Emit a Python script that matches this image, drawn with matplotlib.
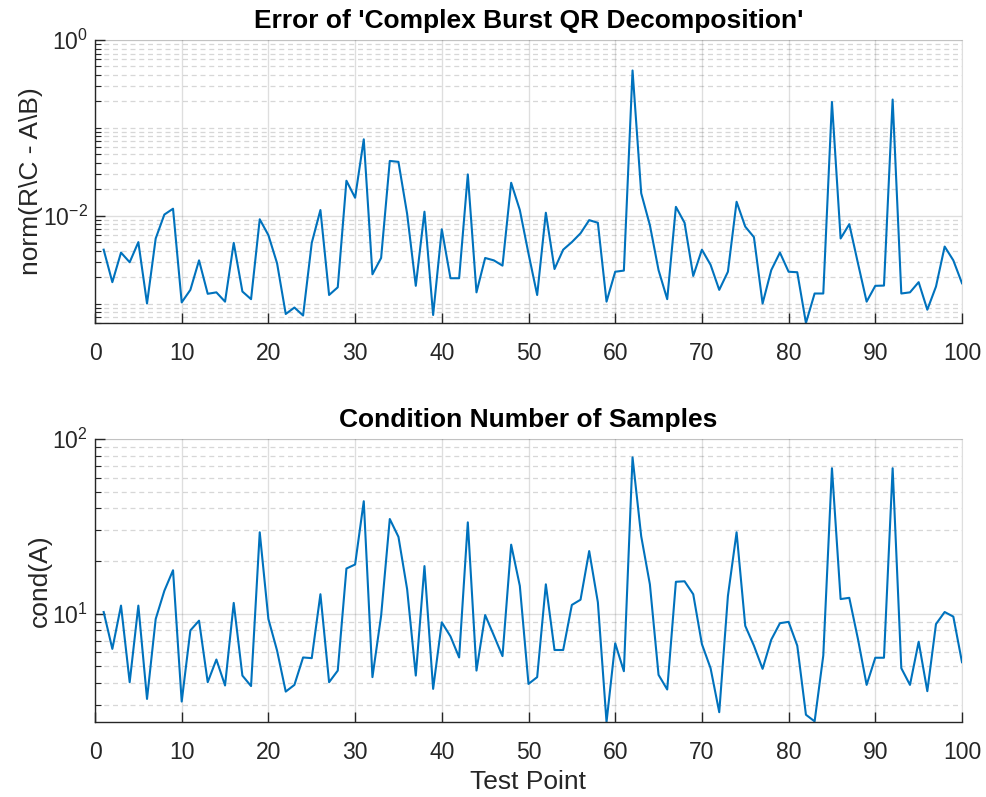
import matplotlib
matplotlib.use('Agg')
import matplotlib.pyplot as plt
from matplotlib.ticker import LogLocator, NullFormatter, FixedLocator
import numpy as np

plt.rcParams['font.family'] = ['Liberation Sans', 'DejaVu Sans']
plt.rcParams['mathtext.fontset'] = 'custom'
plt.rcParams['mathtext.rm'] = 'Liberation Sans'
plt.rcParams['mathtext.it'] = 'Liberation Sans'
plt.rcParams['mathtext.bf'] = 'Liberation Sans:bold'

# test points 1..100
test_point = np.arange(1, 101)

# norm(R\C - A\B)
err = [
    4.1e-3, 1.75e-3, 3.8e-3, 2.95e-3, 5.0e-3, 1.0e-3, 5.5e-3, 1.03e-2, 1.2e-2, 1.03e-3,
    1.43e-3, 3.1e-3, 1.29e-3, 1.34e-3, 1.05e-3, 4.9e-3, 1.37e-3, 1.12e-3, 9.1e-3, 6.0e-3,
    2.87e-3, 7.6e-4, 9.0e-4, 7.3e-4, 4.9e-3, 1.16e-2, 1.25e-3, 1.53e-3, 2.5e-2, 1.6e-2,
    7.4e-2, 2.15e-3, 3.3e-3, 4.2e-2, 4.1e-2, 1.05e-2, 1.59e-3, 1.11e-2, 7.4e-4, 7.0e-3,
    1.94e-3, 1.94e-3, 2.95e-2, 1.34e-3, 3.3e-3, 3.1e-3, 2.7e-3, 2.37e-2, 1.16e-2, 3.7e-3,
    1.25e-3, 1.08e-2, 2.47e-3, 4.1e-3, 5.0e-3, 6.3e-3, 8.9e-3, 8.3e-3, 1.05e-3, 2.3e-3,
    2.37e-3, 0.45, 1.8e-2, 7.8e-3, 2.4e-3, 1.12e-3, 1.26e-2, 8.3e-3, 2.06e-3, 4.1e-3,
    2.76e-3, 1.43e-3, 2.3e-3, 1.44e-2, 7.5e-3, 5.7e-3, 1.0e-3, 2.4e-3, 3.8e-3, 2.3e-3,
    2.27e-3, 6.0e-4, 1.3e-3, 1.3e-3, 0.197, 5.5e-3, 8.0e-3, 2.87e-3, 1.05e-3, 1.59e-3,
    1.6e-3, 0.21, 1.3e-3, 1.34e-3, 1.75e-3, 8.5e-4, 1.56e-3, 4.45e-3, 3.1e-3, 1.7e-3,
]

# cond(A)
cond = [
    10.2, 6.27, 11.1, 4.04, 11.1, 3.24, 9.3, 13.5, 17.7, 3.13,
    8.0, 9.1, 4.04, 5.45, 3.87, 11.5, 4.41, 3.84, 29.2, 9.3,
    6.13, 3.57, 3.9, 5.6, 5.55, 12.9, 4.04, 4.71, 18.1, 19.1,
    44.0, 4.32, 9.7, 34.8, 27.5, 13.8, 4.41, 18.7, 3.7, 8.9,
    7.4, 5.6, 33.3, 4.71, 9.8, 7.5, 5.7, 24.8, 14.4, 3.95,
    4.32, 14.7, 6.18, 6.18, 11.2, 12.0, 22.8, 11.6, 2.39, 6.75,
    4.67, 78.5, 27.7, 14.7, 4.45, 3.67, 15.2, 15.3, 12.9, 6.68,
    4.86, 2.72, 12.6, 29.2, 8.5, 6.54, 4.82, 7.08, 8.8, 8.96,
    6.54, 2.63, 2.41, 5.74, 68.0, 12.1, 12.3, 7.14, 3.9, 5.58,
    5.58, 68.0, 4.86, 3.9, 6.89, 3.59, 8.7, 10.2, 9.6, 5.26,
]

x_ticks = list(range(0, 101, 10))

line_color = '#0072BD'
axis_color = '#262626'

fig = plt.figure(figsize=(9.86, 7.97), dpi=100)
ax1 = fig.add_axes([95 / 986, 1 - 323 / 797, 867 / 986, 283 / 797])
ax2 = fig.add_axes([95 / 986, 1 - 722 / 797, 867 / 986, 283 / 797])


def style_axes(ax, major_y):
    ax.set_yscale('log')
    ax.set_xlim(0, 100)
    ax.set_xticks(x_ticks)
    ax.yaxis.set_major_locator(FixedLocator(major_y))
    ax.yaxis.set_minor_locator(LogLocator(base=10, subs=np.arange(1, 10), numticks=50))
    ax.yaxis.set_minor_formatter(NullFormatter())
    ax.grid(True, which='major', axis='both', color=axis_color, alpha=0.15, lw=1.0)
    ax.grid(True, which='minor', axis='y', color=axis_color, alpha=0.18, lw=0.9,
            linestyle=(0, (4, 3)))
    ax.set_axisbelow(True)
    for side in ['top', 'right']:
        ax.spines[side].set_color(axis_color)
        ax.spines[side].set_alpha(0.15)
    for side in ['left', 'bottom']:
        ax.spines[side].set_color(axis_color)
        ax.spines[side].set_linewidth(1.0)
    ax.tick_params(which='both', direction='in', colors=axis_color, labelsize=16.5,
                   top=False, right=False)
    ax.tick_params(which='major', length=7, width=1.0)
    ax.tick_params(which='minor', length=4, width=0.8)
    ax.tick_params(axis='x', which='major', pad=14)
    ax.tick_params(axis='y', which='major', pad=5)


ax1.plot(test_point, err, color=line_color, lw=1.5)
style_axes(ax1, [1e-2, 1e0])
ax1.set_ylim(min(err), 1e0)
ax1.set_title("Error of 'Complex Burst QR Decomposition'", fontsize=19,
              fontweight='bold', pad=8.5)
ax1.set_ylabel('norm(R\\C - A\\B)', fontsize=19, color=axis_color, labelpad=0)

ax2.plot(test_point, cond, color=line_color, lw=1.5)
style_axes(ax2, [1e1, 1e2])
ax2.set_ylim(min(cond), 1e2)
ax2.set_title('Condition Number of Samples', fontsize=19, fontweight='bold', pad=8.5)
ax2.set_ylabel('cond(A)', fontsize=19, color=axis_color, labelpad=0)
ax2.set_xlabel('Test Point', fontsize=19, color=axis_color, labelpad=4)

fig.savefig('out.png', dpi=100, facecolor='white')
